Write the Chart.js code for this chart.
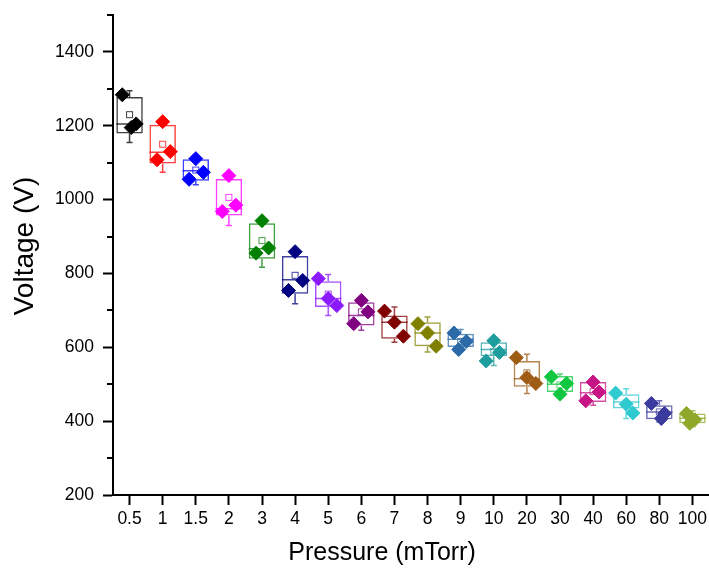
<!DOCTYPE html>
<html>
<head>
<meta charset="utf-8">
<title>Voltage vs Pressure</title>
<script src="https://cdn.jsdelivr.net/npm/chart.js@4.4.0/dist/chart.umd.min.js"></script>
<style>
  html, body { margin: 0; padding: 0; background: #fff; }
</style>
</head>
<body>
<canvas id="boxChart" width="709" height="569"></canvas>
<script>
// pressure categories (mTorr)
const pressures = ['0.5', '1', '1.5', '2', '3', '4', '5', '6', '7', '8', '9', '10', '20', '30', '40', '60', '80', '100'];

// box statistics (V)
const boxTop    = [1278, 1203, 1109, 1056, 936, 847, 779, 722, 686, 668, 637, 614, 563, 522, 506, 473, 443, 421];
const boxBottom = [1179, 1098, 1051, 957, 840, 745, 709, 659, 623, 603, 601, 576, 493, 479, 452, 434, 405, 394];
const medians   = [1205, 1128, 1078, 975, 867, 783, 732, 686, 668, 639, 622, 594, 515, 500, 477, 452, 425, 408];
const means     = [1230, 1150, 1080, 1006, 889, 795, 744, 696, 665, 635, 616, 589, 531, 498, 480, 448, 425, 406];
const whiskLow  = [1155, 1074, 1040, 930, 817, 718, 686, 646, 614, 587, 590, 551, 475, 470, 443, 407, 398, 385];
const whiskHigh = [1295, 1215, 1120, 1070, 950, 862, 797, 730, 709, 682, 648, 625, 581, 528, 512, 488, 455, 428];

// the three measured runs (V)
const runA = [1284, 1211, 1111, 1065, 943, 859, 786, 727, 698, 664, 639, 618, 572, 520, 506, 476, 448, 421];
const runB = [1195, 1108, 1055, 968, 855, 754, 732, 696, 668, 639, 616, 586, 518, 502, 479, 446, 421, 404];
const runC = [1205, 1130, 1074, 985, 869, 781, 713, 664, 630, 603, 594, 563, 502, 473, 455, 422, 407, 394];

// horizontal jitter of each run inside its box (category units)
const jitterA = [-0.22, 0, 0, 0, 0, 0, -0.3, 0, -0.3, -0.29, -0.2, 0, -0.32, -0.26, 0, -0.32, -0.24, -0.18];
const jitterB = [0.05, -0.17, -0.2, -0.2, -0.18, -0.2, 0, 0.2, 0, 0, 0.17, 0.17, 0, 0.2, 0.18, 0, 0.16, 0.07];
const jitterC = [0.2, 0.23, 0.23, 0.21, 0.2, 0.23, 0.26, -0.23, 0.27, 0.26, -0.06, -0.23, 0.27, 0, -0.22, 0.2, 0.06, -0.08];

const xTitle = 'Pressure (mTorr)';
const yTitle = 'Voltage (V)';

const colors = [
    '#000000', '#ff0000', '#0000ff', '#ff00ff', '#008000', '#000080',
    '#8b1aff', '#800080', '#800000', '#808000', '#2b6aa8', '#1f9c9c',
    '#9d5b14', '#11c740', '#c71585', '#2fcad0', '#3b3b9e', '#90a82a'
];

function fade(hex, a) {
    const r = parseInt(hex.substr(1, 2), 16);
    const g = parseInt(hex.substr(3, 2), 16);
    const b = parseInt(hex.substr(5, 2), 16);
    return 'rgba(' + r + ',' + g + ',' + b + ',' + a + ')';
}
const boxColors = colors.map(c => fade(c, 0.75));

// scatter points for the runs
const runPoints = [];
const runColors = [];
for (let i = 0; i < pressures.length; i++) {
    runPoints.push({ x: i + jitterA[i], y: runA[i] });
    runPoints.push({ x: i + jitterB[i], y: runB[i] });
    runPoints.push({ x: i + jitterC[i], y: runC[i] });
    runColors.push(colors[i], colors[i], colors[i]);
}

const boxRanges = [];
for (let i = 0; i < pressures.length; i++) {
    boxRanges.push([boxBottom[i], boxTop[i]]);
}

// median line, whiskers and mean square on top of each box
const boxExtras = {
    id: 'boxExtras',
    afterDatasetDraw(chart, args) {
        if (args.meta.type !== 'bar') return;
        const ctx = chart.ctx;
        const y = chart.scales.y;
        args.meta.data.forEach(function (bar, i) {
            const half = bar.width / 2;
            const x = bar.x;
            ctx.save();
            ctx.strokeStyle = boxColors[i];
            ctx.lineWidth = 1.5;
            ctx.beginPath();
            const ym = y.getPixelForValue(medians[i]);
            ctx.moveTo(x - half, ym);
            ctx.lineTo(x + half, ym);
            // whiskers
            const yt = y.getPixelForValue(boxTop[i]);
            const yb = y.getPixelForValue(boxBottom[i]);
            const yh = y.getPixelForValue(whiskHigh[i]);
            const yl = y.getPixelForValue(whiskLow[i]);
            ctx.moveTo(x, yt);
            ctx.lineTo(x, yh);
            ctx.moveTo(x - 3, yh);
            ctx.lineTo(x + 3, yh);
            ctx.moveTo(x, yb);
            ctx.lineTo(x, yl);
            ctx.moveTo(x - 3, yl);
            ctx.lineTo(x + 3, yl);
            ctx.stroke();
            // mean
            ctx.lineWidth = 1;
            const ya = y.getPixelForValue(means[i]);
            ctx.strokeRect(x - 3, ya - 3, 6, 6);
            ctx.restore();
        });
    }
};

// short minor ticks on the y axis
const minorTicks = {
    id: 'minorTicks',
    afterDraw(chart) {
        const ctx = chart.ctx;
        const y = chart.scales.y;
        const left = chart.chartArea.left;
        ctx.save();
        ctx.strokeStyle = '#000';
        ctx.lineWidth = 2;
        ctx.beginPath();
        for (let v = 300; v <= 1500; v += 200) {
            const py = Math.round(y.getPixelForValue(v));
            ctx.moveTo(left - 6, py);
            ctx.lineTo(left, py);
        }
        ctx.stroke();
        ctx.restore();
    }
};

// axis titles, a bit off-centre like the original figure
const axisTitles = {
    id: 'axisTitles',
    afterDraw(chart) {
        const ctx = chart.ctx;
        const area = chart.chartArea;
        ctx.save();
        ctx.fillStyle = '#000';
        ctx.textAlign = 'center';
        ctx.textBaseline = 'middle';
        ctx.font = '25px "Liberation Sans"';
        ctx.fillText(xTitle, (area.left + area.right) / 2 - 29, chart.height - 16);
        ctx.translate(25, (area.top + area.bottom) / 2 - 9);
        ctx.rotate(-Math.PI / 2);
        ctx.font = '28px "Liberation Sans"';
        ctx.fillText(yTitle, 0, 0);
        ctx.restore();
    }
};

const tickFont = { family: 'Liberation Sans', size: 17.5 };

var ctx = document.getElementById('boxChart').getContext('2d');
var boxChart = new Chart(ctx, {
    type: 'bar',
    data: {
        labels: pressures,
        datasets: [{
            type: 'scatter',
            data: runPoints,
            xAxisID: 'xj',
            yAxisID: 'y',
            pointStyle: 'rectRot',
            pointRadius: 7,
            pointBackgroundColor: runColors,
            pointBorderColor: runColors,
            pointBorderWidth: 1,
            order: 0
        }, {
            type: 'bar',
            data: boxRanges,
            xAxisID: 'x',
            yAxisID: 'y',
            backgroundColor: 'rgba(0,0,0,0)',
            borderColor: boxColors,
            borderWidth: 1.5,
            borderSkipped: false,
            grouped: false,
            categoryPercentage: 1,
            barPercentage: 0.8,
            order: 1
        }]
    },
    options: {
        responsive: false,
        animation: false,
        layout: { autoPadding: false, padding: { top: 15, right: 0, bottom: 0, left: 0 } },
        plugins: {
            legend: { display: false },
            tooltip: { enabled: false }
        },
        scales: {
            x: {
                type: 'category',
                offset: true,
                border: { color: '#000', width: 2 },
                grid: { offset: false, drawOnChartArea: false, tickLength: 10, tickWidth: 2, tickColor: '#000' },
                ticks: { color: '#000', font: tickFont, padding: 4, maxRotation: 0, autoSkip: false },
                afterFit: function (s) {
                    s.height = 74;
                    s.paddingLeft = 0;
                    s.paddingRight = 0;
                }
            },
            xj: {
                type: 'linear',
                display: false,
                offset: false,
                min: -0.5,
                max: 17.5,
                ticks: { display: false },
                afterFit: function (s) {
                    s.paddingLeft = 0;
                    s.paddingRight = 0;
                }
            },
            y: {
                min: 200,
                max: 1500,
                border: { color: '#000', width: 2 },
                grid: {
                    drawOnChartArea: false,
                    tickLength: 10,
                    tickWidth: 2,
                    tickColor: function (c) {
                        return (c.tick && c.tick.value % 200 === 0) ? '#000' : 'rgba(0,0,0,0)';
                    }
                },
                ticks: {
                    stepSize: 100,
                    color: '#000',
                    font: tickFont,
                    padding: 9,
                    callback: function (v) { return v % 200 === 0 ? v : ''; }
                },
                afterFit: function (s) {
                    s.width = 113;
                    s.paddingTop = 0;
                    s.paddingBottom = 0;
                }
            }
        }
    },
    plugins: [boxExtras, minorTicks, axisTitles]
});
</script>
</body>
</html>
